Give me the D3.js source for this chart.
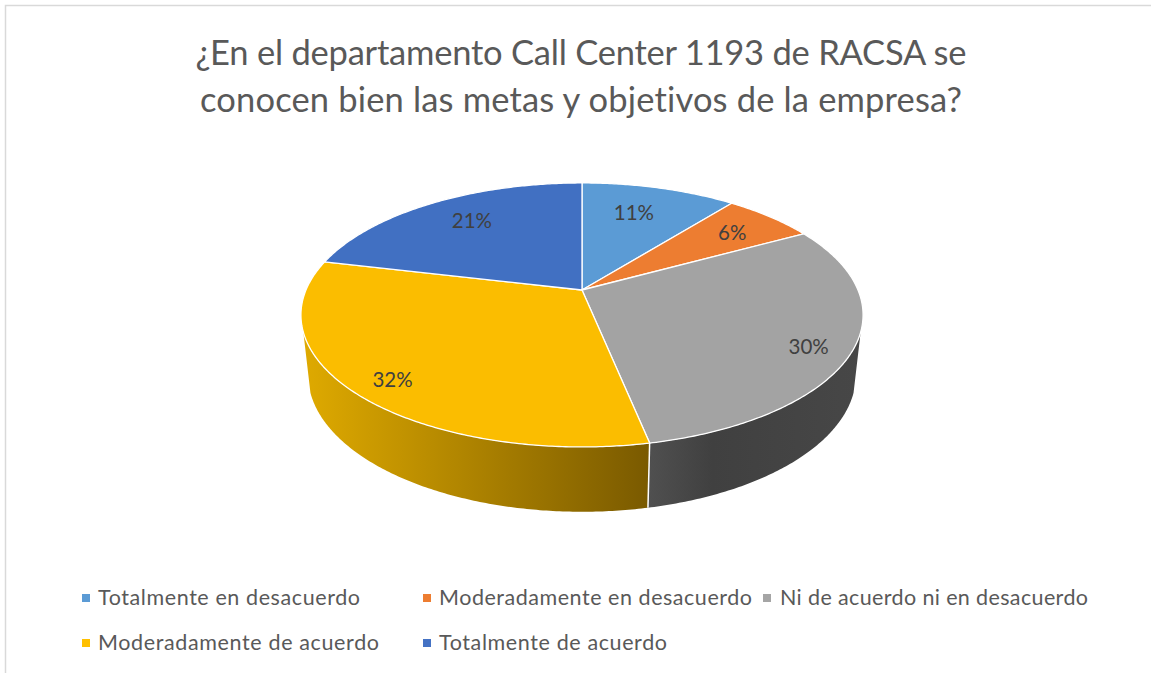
<!DOCTYPE html>
<html><head><meta charset="utf-8">
<script src="https://cdn.jsdelivr.net/npm/d3@7/dist/d3.min.js"></script>
<style>html,body{margin:0;background:#fff}svg{display:block}text{font-family:Lato,"Open Sans",sans-serif;font-variant-ligatures:none}</style>
</head><body><svg id="c" width="1151" height="673"></svg>
<script>
const titleLines = ["¿En el departamento Call Center 1193 de RACSA se","conocen bien las metas y objetivos de la empresa?"];
const categories = ["Totalmente en desacuerdo","Moderadamente en desacuerdo","Ni de acuerdo ni en desacuerdo","Moderadamente de acuerdo","Totalmente de acuerdo"];
const values = [10.7,6.3,29.8,31.9,21.3];
const colors = ["#5b9bd5","#ed7d31","#a5a5a5","#ffc000","#4472c4"];
const colorsTop = ["#5b9bd5","#ed7d31","#a3a3a3","#fbbd00","#4170c2"];

// layout
const W=1151,H=673, k=0.189;
const topRing={cx:582,cy:290,a:276,b:127.3};
const botRing={cx:582,cy:349,a:269,b:132};
const sideFrom=108.2*Math.PI/180, sideTo=251.8*Math.PI/180;
const labelRadius=[0.715,0.773,0.862,0.87,0.75];
const labelShift=[-2,0.5,3.7,-1.8,2];
const legendCols=[82,423,763], legendRows=[598,643];
const legendPlace=[[0,0],[1,0],[2,0],[0,1],[1,1]];
const legendWidths=[262,313,308,281,228];
const titleWidths=[771,762];

function project(ring,theta,r=1){
  const u=r*Math.sin(theta), v=r*Math.cos(theta), d=1+k*v;
  return [ring.cx+ring.a*u/d, ring.cy-ring.b*v/d];
}
function arcPts(ring,t0,t1){
  const n=Math.max(2,Math.ceil(Math.abs(t1-t0)/0.01));
  return d3.range(n+1).map(i=>project(ring,t0+(t1-t0)*i/n));
}
const line=d3.line().curve(d3.curveLinear);
const svg=d3.select("#c");
svg.append("rect").attr("width",W).attr("height",H).attr("fill","#fff");
// frame
svg.append("path").attr("d",`M5.5,${H}V5.5H${W}`).attr("fill","none").attr("stroke","#d9d9d9").attr("stroke-width",1.5);

const pie=d3.pie().sort(null).value(d=>d)(values);
const defs=svg.append("defs");
const gy=defs.append("linearGradient").attr("id","sideY").attr("gradientUnits","userSpaceOnUse").attr("x1",303).attr("x2",648).attr("y1",0).attr("y2",0);
gy.append("stop").attr("offset",0).attr("stop-color","#dfaa00");
gy.append("stop").attr("offset",1).attr("stop-color","#7a5a00");
const gg=defs.append("linearGradient").attr("id","sideG").attr("gradientUnits","userSpaceOnUse").attr("x1",648).attr("x2",862).attr("y1",0).attr("y2",0);
gg.append("stop").attr("offset",0).attr("stop-color","#505050");
gg.append("stop").attr("offset",0.3).attr("stop-color","#404040");
gg.append("stop").attr("offset",1).attr("stop-color","#474747");

// side walls
const sideG=svg.append("g");
pie.forEach((p,i)=>{
  const t0=Math.max(p.startAngle,sideFrom), t1=Math.min(p.endAngle,sideTo);
  if(t1<=t0) return;
  const pts=arcPts(topRing,t0,t1).concat(arcPts(botRing,t1,t0));
  sideG.append("path").attr("d",line(pts)+"Z").attr("fill",i===2?"url(#sideG)":"url(#sideY)");
});
// seam on front wall
const seam=pie[3].startAngle;
sideG.append("path").attr("d",line([project(topRing,seam),project(botRing,seam)])).attr("stroke","#fff").attr("stroke-width",1.5).attr("fill","none");

// top face
const topG=svg.append("g");
pie.forEach((p,i)=>{
  const pts=[[topRing.cx,topRing.cy]].concat(arcPts(topRing,p.startAngle,p.endAngle));
  topG.append("path").attr("d",line(pts)+"Z").attr("fill",colorsTop[i]).attr("stroke","#fff").attr("stroke-width",1.3).attr("stroke-linejoin","round");
});
// labels
const fmt=d3.format(".0%");
pie.forEach((p,i)=>{
  const mid=(p.startAngle+p.endAngle)/2+labelShift[i]*Math.PI/180;
  const [x,y]=project(topRing,mid,labelRadius[i]);
  svg.append("text").attr("x",x).attr("y",y+7).attr("text-anchor","middle").attr("font-size",20.5).attr("fill","#404040").text(fmt(values[i]/100));
});
// title
svg.selectAll("text.t").data(titleLines).join("text").attr("class","t")
  .attr("x",581).attr("y",(d,i)=>65+i*47).attr("text-anchor","middle").attr("font-size",34.5).attr("fill","#595959")
  .attr("textLength",(d,i)=>titleWidths[i]).attr("lengthAdjust","spacing").text(d=>d);
// legend
categories.forEach((c,i)=>{
  const [cx,ry]=legendPlace[i];
  const x=legendCols[cx], y=legendRows[ry];
  svg.append("rect").attr("x",x).attr("y",y-4).attr("width",8).attr("height",8).attr("fill",colors[i]);
  svg.append("text").attr("x",x+16+(cx===2?1:0)).attr("y",y+7).attr("font-size",21.5).attr("fill","#595959")
    .attr("textLength",legendWidths[i]).attr("lengthAdjust","spacing").text(c);
});
</script></body></html>
